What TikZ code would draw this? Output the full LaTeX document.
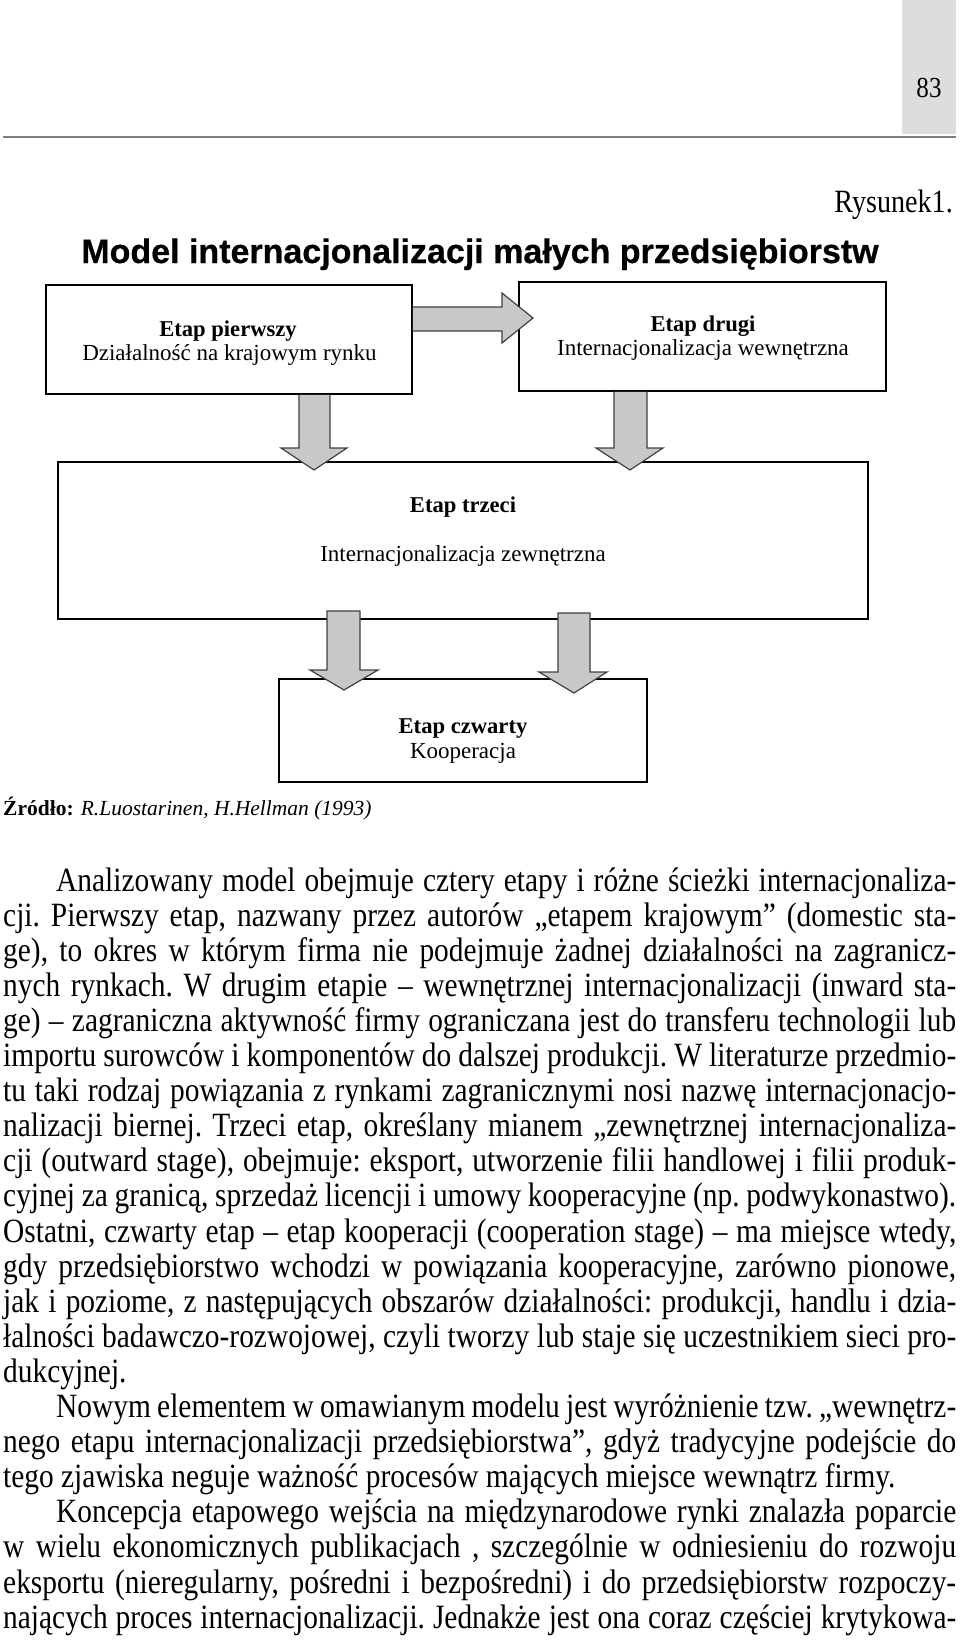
\documentclass[tikz,border=0pt]{standalone}
\usepackage{fontspec}
\setmainfont{Liberation Serif}
\newfontfamily\bodyf[FakeStretch=0.865]{Liberation Serif}
\newfontfamily\titlef[BoldFeatures={FakeBold=0.6}]{Liberation Sans}
\usetikzlibrary{calc}
\definecolor{tabgray}{RGB}{221,221,221}
\definecolor{arrgray}{RGB}{200,200,200}
\definecolor{rulegray}{RGB}{128,128,128}
\newcommand{\jline}[2]{\makebox[#1pt][s]{#2}}
\begin{document}
\begin{tikzpicture}[x=1pt,y=-1pt,
  box/.style={draw=black, line width=1.8pt, fill=white, inner sep=0pt},
  blk/.style={draw=black!75, line width=1.2pt, fill=arrgray, line join=miter},
  bl/.style={font=\fontsize{23}{26}\selectfont, inner sep=0pt, anchor=base},
  bb/.style={font=\fontsize{22.6}{26}\selectfont\bfseries, inner sep=0pt, anchor=base},
  body/.style={font=\bodyf\fontsize{34}{36}\selectfont\frenchspacing, inner sep=0pt, anchor=base west},
]
\useasboundingbox (0,0) rectangle (960,1641);
\fill[white] (0,0) rectangle (960,1641);
% header
\fill[tabgray] (902,0) rectangle (956,134);
\node[inner sep=0pt, anchor=base, font=\bodyf\fontsize{29}{30}\selectfont] (pg) at (929,97) {83};
\draw[rulegray, line width=2.2pt] (3,137) -- (956,137);
\node[anchor=base east, inner sep=0pt, font=\bodyf\fontsize{32.5}{33}\selectfont] (rys) at (953,212) {Rysunek1.};
\node[anchor=base, inner sep=0pt, font=\titlef\bfseries\fontsize{34}{36}\selectfont] (title) at (480,263) {Model internacjonalizacji małych przedsiębiorstw};
% boxes
\node[box, minimum width=366pt, minimum height=109pt] (b1) at (229,339.5) {};
\node[box, minimum width=367pt, minimum height=109pt] (b2) at (702.5,336.5) {};
\node[box, minimum width=810pt, minimum height=157pt] (b3) at (463,540.5) {};
\node[box, minimum width=368pt, minimum height=103pt] (b4) at (463,730.5) {};
% box texts
\node[bb] (t1a) at (228,336) {Etap pierwszy};
\node[bl] (t1b) at (229.5,360) {Działalność na krajowym rynku};
\node[bb] (t2a) at (703,331) {Etap drugi};
\node[bl] (t2b) at (703,355) {Internacjonalizacja wewnętrzna};
\node[bb] (t3a) at (463,512) {Etap trzeci};
\node[bl] (t3b) at (463,561) {Internacjonalizacja zewnętrzna};
\node[bb] (t4a) at (463,733) {Etap czwarty};
\node[bl] (t4b) at (463,758) {Kooperacja};
% block arrows
\draw[blk] (b1.east |- 0,307) -- (502,307) -- (502,293) -- (533,318) -- (502,343) -- (502,331) -- (b1.east |- 0,331);
\draw[blk] (299,0 |- b1.south) -- (299,448) -- (281,448) -- (314,470) -- (347,448) -- (330,448) -- (330,0 |- b1.south);
\draw[blk] (614,0 |- b2.south) -- (614,448) -- (596,448) -- (630,470) -- (663,448) -- (647,448) -- (647,0 |- b2.south);
\draw[blk] (327,611) -- (327,670) -- (310,670) -- (344,690) -- (378,670) -- (360,670) -- (360,611) -- cycle;
\draw[blk] (558,613) -- (558,672) -- (539,672) -- (574,693) -- (607,672) -- (590,672) -- (590,613) -- cycle;
% source
\node[anchor=base west, inner sep=0pt, font=\fontsize{21.5}{24}\selectfont] (src) at (3,815) {\textbf{Źródło:} \textit{R.Luostarinen, H.Hellman (1993)}};
% body text
\node[body] (l1) at (56,891) {\jline{900}{Analizowany model obejmuje cztery etapy i różne ścieżki internacjonaliza-}};
\node[body] (l2) at (3,926.1) {\jline{953}{cji. Pierwszy etap, nazwany przez autorów „etapem krajowym” (domestic sta-}};
\node[body] (l3) at (3,961.2) {\jline{953}{ge), to okres w którym firma nie podejmuje żadnej działalności na zagranicz-}};
\node[body] (l4) at (3,996.3) {\jline{953}{nych rynkach. W drugim etapie – wewnętrznej internacjonalizacji (inward sta-}};
\node[body] (l5) at (3,1031.4) {\jline{953}{ge) – zagraniczna aktywność firmy ograniczana jest do transferu technologii lub}};
\node[body] (l6) at (3,1066.5) {\jline{953}{importu surowców i komponentów do dalszej produkcji. W literaturze przedmio-}};
\node[body] (l7) at (3,1101.6) {\jline{953}{tu taki rodzaj powiązania z rynkami zagranicznymi nosi nazwę internacjonacjo-}};
\node[body] (l8) at (3,1136.7) {\jline{953}{nalizacji biernej. Trzeci etap, określany mianem „zewnętrznej internacjonaliza-}};
\node[body] (l9) at (3,1171.8) {\jline{953}{cji (outward stage), obejmuje: eksport, utworzenie filii handlowej i filii produk-}};
\node[body] (l10) at (3,1206.9) {\jline{953}{cyjnej za granicą, sprzedaż licencji i umowy kooperacyjne (np. podwykonastwo).}};
\node[body] (l11) at (3,1242.0) {\jline{953}{Ostatni, czwarty etap – etap kooperacji (cooperation stage) – ma miejsce wtedy,}};
\node[body] (l12) at (3,1277.1) {\jline{953}{gdy przedsiębiorstwo wchodzi w powiązania kooperacyjne, zarówno pionowe,}};
\node[body] (l13) at (3,1312.2) {\jline{953}{jak i poziome, z następujących obszarów działalności: produkcji, handlu i dzia-}};
\node[body] (l14) at (3,1347.3) {\jline{953}{łalności badawczo-rozwojowej, czyli tworzy lub staje się uczestnikiem sieci pro-}};
\node[body] (l15) at (3,1382.4) {dukcyjnej.};
\node[body] (l16) at (56,1417.5) {\jline{900}{Nowym elementem w omawianym modelu jest wyróżnienie tzw. „wewnętrz-}};
\node[body] (l17) at (3,1452.6) {\jline{953}{nego etapu internacjonalizacji przedsiębiorstwa”, gdyż tradycyjne podejście do}};
\node[body] (l18) at (3,1487.7) {tego zjawiska neguje ważność procesów mających miejsce wewnątrz firmy.};
\node[body] (l19) at (56,1522.8) {\jline{900}{Koncepcja etapowego wejścia na międzynarodowe rynki znalazła poparcie}};
\node[body] (l20) at (3,1557.9) {\jline{953}{w wielu ekonomicznych publikacjach , szczególnie w odniesieniu do rozwoju}};
\node[body] (l21) at (3,1593.0) {\jline{953}{eksportu (nieregularny, pośredni i bezpośredni) i do przedsiębiorstw rozpoczy-}};
\node[body] (l22) at (3,1628.1) {\jline{953}{nających proces internacjonalizacji. Jednakże jest ona coraz częściej krytykowa-}};
\end{tikzpicture}
\end{document}
